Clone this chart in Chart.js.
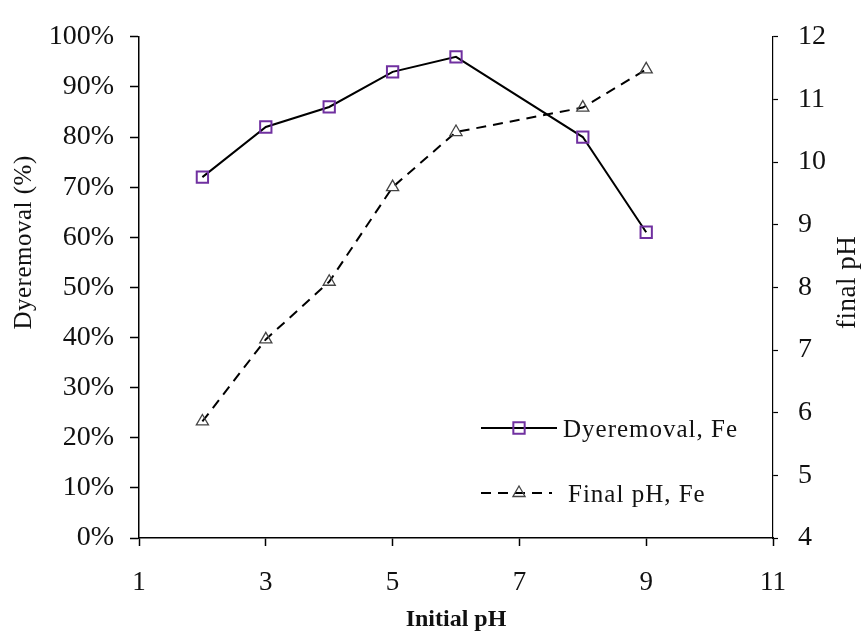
<!DOCTYPE html>
<html>
<head>
<meta charset="utf-8">
<script src="https://cdn.jsdelivr.net/npm/chart.js@4"></script>
<style>
  html, body { margin: 0; padding: 0; background: #fff; }
  #wrap { width: 862px; height: 631px; }
</style>
</head>
<body>
<div id="wrap"><canvas id="chart" width="862" height="631"></canvas></div>
<script>
// data
const initialPH = [2, 3, 4, 5, 6, 8, 9];
const dyeRemoval = [72, 82, 86, 93, 96, 80, 61];      // %
const finalPH = [5.86, 7.17, 8.09, 9.6, 10.48, 10.87, 11.48];
const seriesNames = ["Dyeremoval, Fe", "Final pH, Fe"];
const xTitle = "Initial pH";
const leftTitle = "Dyeremoval (%)";
const rightTitle = "final pH";

const serif = "'Liberation Serif', 'Times New Roman', serif";

// draws the rotated side titles and the legend that sits inside the plot
const overlay = {
    id: "overlay",
    afterDraw(chart) {
        const c = chart.ctx;
        const area = chart.chartArea;
        const midY = (area.top + area.bottom) / 2;

        // side titles, both read bottom to top
        [[leftTitle, 24, midY - 45, 25], [rightTitle, 848, midY - 5, 27]].forEach(t => {
            c.save();
            c.fillStyle = "#111";
            c.font = t[3] + "px " + serif;
            c.letterSpacing = "0.5px";
            c.textAlign = "center";
            c.textBaseline = "middle";
            c.translate(t[1], t[2]);
            c.rotate(-Math.PI / 2);
            c.fillText(t[0], 0, 0);
            c.restore();
        });

        // legend
        const rows = [{ y: 428, x2: 557, textX: 563 }, { y: 493, x2: 552, textX: 568 }];
        chart.data.datasets.forEach((ds, i) => {
            const r = rows[i];
            c.save();
            c.strokeStyle = ds.borderColor;
            c.lineWidth = ds.borderWidth;
            c.setLineDash(ds.borderDash || []);
            c.beginPath();
            c.moveTo(481, r.y);
            c.lineTo(r.x2, r.y);
            c.stroke();
            c.setLineDash([]);
            c.strokeStyle = ds.pointBorderColor;
            c.fillStyle = ds.pointBackgroundColor;
            c.lineWidth = ds.pointBorderWidth;
            Chart.helpers.drawPoint(c, {
                pointStyle: ds.pointStyle,
                radius: ds.pointRadius,
                borderWidth: ds.pointBorderWidth,
                rotation: 0
            }, 519, r.y);
            c.fillStyle = "#111";
            c.font = "25px " + serif;
            c.letterSpacing = "1px";
            c.textAlign = "left";
            c.textBaseline = "middle";
            c.fillText(seriesNames[i], r.textX, r.y + 2);
            c.restore();
        });
    }
};

const ctx = document.getElementById("chart").getContext("2d");
const chart = new Chart(ctx, {
    type: "line",
    data: {
        datasets: [
            {
                label: seriesNames[0],
                data: initialPH.map((x, i) => ({ x: x, y: dyeRemoval[i] })),
                yAxisID: "y",
                borderColor: "#000",
                borderWidth: 2,
                pointStyle: "rect",
                pointRadius: 8,
                pointHoverRadius: 8,
                pointBorderWidth: 2,
                pointBorderColor: "#7030A0",
                pointBackgroundColor: "rgba(0,0,0,0)",
                tension: 0,
                fill: false
            },
            {
                label: seriesNames[1],
                data: initialPH.map((x, i) => ({ x: x, y: finalPH[i] })),
                yAxisID: "y1",
                borderColor: "#000",
                borderWidth: 2,
                borderDash: [10, 7],
                pointStyle: "triangle",
                pointRadius: 7,
                pointHoverRadius: 7,
                pointBorderWidth: 1.3,
                pointBorderColor: "#444",
                pointBackgroundColor: "rgba(0,0,0,0)",
                tension: 0,
                fill: false
            }
        ]
    },
    options: {
        responsive: false,
        animation: false,
        events: [],
        layout: { padding: { top: 25, left: 0, right: 0, bottom: 0 } },
        plugins: {
            legend: { display: false },
            tooltip: { enabled: false }
        },
        scales: {
            x: {
                type: "linear",
                min: 1,
                max: 11,
                afterFit: s => { s.height = 93; },
                ticks: { stepSize: 2, color: "#111", padding: 21, font: { family: serif, size: 27 } },
                grid: { drawOnChartArea: false, color: "#000", tickLength: 8, tickWidth: 1.5 },
                border: { color: "#000", width: 1.5 },
                title: {
                    display: true,
                    text: xTitle,
                    color: "#111",
                    padding: { top: 0, bottom: 0 },
                    font: { family: serif, size: 24, weight: "bold", lineHeight: 0.9 }
                }
            },
            y: {
                position: "left",
                min: 0,
                max: 100,
                afterFit: s => { s.width = 139; },
                ticks: {
                    stepSize: 10,
                    color: "#111",
                    padding: 16,
                    font: { family: serif, size: 28 },
                    callback: v => v + "%"
                },
                grid: { drawOnChartArea: false, color: "#000", tickLength: 9, tickWidth: 1.5 },
                border: { color: "#000", width: 1.5 }
            },
            y1: {
                position: "right",
                min: 4,
                max: 12,
                afterFit: s => { s.width = 89; },
                ticks: { stepSize: 1, color: "#111", padding: 20, font: { family: serif, size: 28 } },
                grid: { drawOnChartArea: false, color: "#000", tickLength: 5, tickWidth: 1.2 },
                border: { color: "#000", width: 1.2, dash: [4, 3] }
            }
        }
    },
    plugins: [overlay]
});
</script>
</body>
</html>
